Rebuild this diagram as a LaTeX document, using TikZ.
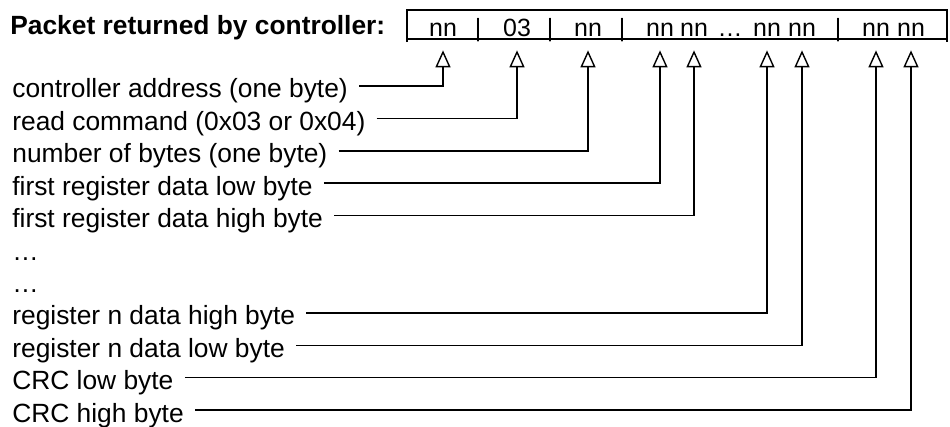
\documentclass[tikz,border=0pt]{standalone}
\usepackage{fontspec}
\setmainfont{Liberation Sans}
\usetikzlibrary{arrows.meta}

\tikzset{
  desc/.style={anchor=west, inner sep=0pt, text height=0.48cm, text depth=0pt,
    font=\fontsize{15}{18}\selectfont},
  field/.style={anchor=base, inner sep=0pt, text depth=0pt,
    font=\fontsize{14.2}{17}\selectfont},
  pointer/.style={line width=0.8pt, shorten <=0.22cm, shorten >=0.28cm,
    -{Triangle[open,length=0.34cm,width=0.30cm,line width=0.8pt]}},
}

\begin{document}
\begin{tikzpicture}[x=0.02cm,y=-0.02cm]
            \useasboundingbox (0,0) rectangle (950,426);
            % heading and packet frame
            \node[anchor=base west, inner sep=0pt, font=\fontsize{15}{18}\selectfont\bfseries]
                (title) at (10,34) {Packet returned by controller:};
            \draw[line width=1.3pt] (407,42) -- (407,10) -- (947,10) -- (947,42);
            \draw[line width=1.3pt] (407,39) -- (947,39);
            % bytes of the packet
            \node[field] (b1) at (443,36) {nn};
            \node[field] (s1) at (478,36) {|};
            \node[field] (b2) at (517,36) {03};
            \node[field] (s2) at (550,36) {|};
            \node[field] (b3) at (588,36) {nn};
            \node[field] (s3) at (622,36) {|};
            \node[field] (b4) at (660,36) {nn};
            \node[field] (b5) at (694,36) {nn};
            \node[field] (dots) at (730,36) {…};
            \node[field] (b6) at (767,36) {nn};
            \node[field] (b7) at (802,36) {nn};
            \node[field] (s4) at (838,36) {|};
            \node[field] (b8) at (876,36) {nn};
            \node[field] (b9) at (911,36) {nn};
            % descriptions
            \node[desc] (d0) at (12,86) {controller address (one byte)};
            \node[desc] (d1) at (12,118.4) {read command (0x03 or 0x04)};
            \node[desc] (d2) at (12,150.8) {number of bytes (one byte)};
            \node[desc] (d3) at (12,183.2) {first register data low byte};
            \node[desc] (d4) at (12,215.6) {first register data high byte};
            \node[desc] (d5) at (12,248) {…};
            \node[desc] (d6) at (12,280.4) {…};
            \node[desc] (d7) at (12,312.8) {register n data high byte};
            \node[desc] (d8) at (12,345.2) {register n data low byte};
            \node[desc] (d9) at (12,377.6) {CRC low byte};
            \node[desc] (d10) at (12,410) {CRC high byte};
            % pointers
            \draw[pointer] (d0.east) -| (b1.south);
            \draw[pointer] (d1.east) -| (b2.south);
            \draw[pointer] (d2.east) -| (b3.south);
            \draw[pointer] (d3.east) -| (b4.south);
            \draw[pointer] (d4.east) -| (b5.south);
            \draw[pointer] (d7.east) -| (b6.south);
            \draw[pointer] (d8.east) -| (b7.south);
            \draw[pointer] (d9.east) -| (b8.south);
            \draw[pointer] (d10.east) -| (b9.south);
        \end{tikzpicture}
\end{document}
